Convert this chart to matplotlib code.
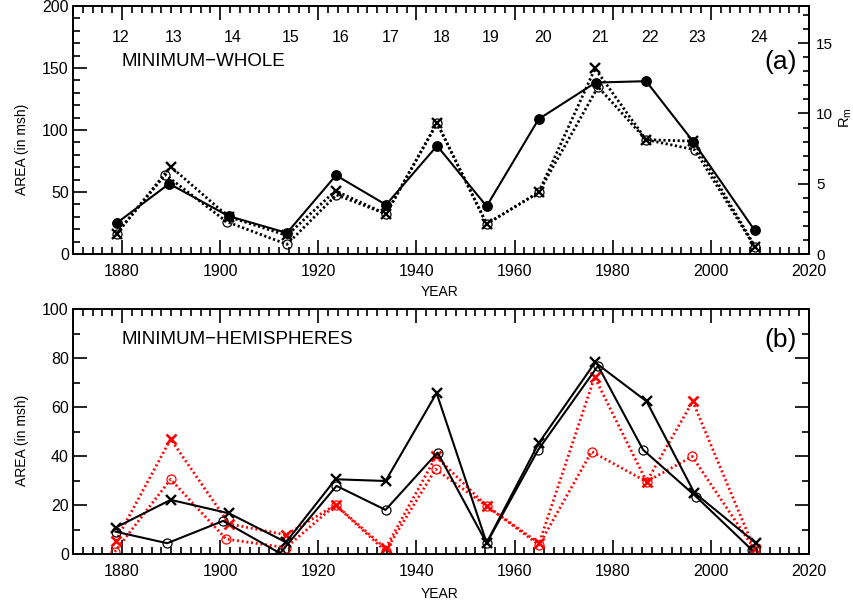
import matplotlib
matplotlib.use('Agg')
import matplotlib.pyplot as plt
from matplotlib.ticker import MultipleLocator
import matplotlib.transforms as mtransforms

plt.rcParams['font.family'] = ['Liberation Sans', 'DejaVu Sans']

# ---------------- data ----------------
cycles = [12, 13, 14, 15, 16, 17, 18, 19, 20, 21, 22, 23, 24]

# panel (a): smoothed sunspot number at minimum (right axis)
rm_years = [1878.9, 1889.6, 1901.7, 1913.6, 1923.6, 1933.8, 1944.2, 1954.3,
            1964.9, 1976.5, 1986.8, 1996.4, 2008.9]
rm_values = [2.2, 5.0, 2.7, 1.5, 5.6, 3.5, 7.7, 3.4, 9.6, 12.2, 12.3, 8.0, 1.7]

# panel (a): whole-disk minimum area, two estimates (crosses / circles)
whole_x_years = [1878.9, 1889.9, 1901.7, 1913.6, 1923.5, 1933.8, 1944.2, 1954.3,
                 1964.9, 1976.4, 1986.8, 1996.4, 2009.0]
whole_x_area = [16.5, 70.5, 30.0, 15.0, 51.0, 32.3, 105.7, 24.3,
                49.6, 149.6, 92.2, 91.0, 5.9]
whole_o_years = [1878.9, 1888.8, 1901.3, 1913.6, 1923.7, 1933.8, 1944.2, 1954.3,
                 1964.9, 1977.0, 1986.8, 1996.7, 2008.9]
whole_o_area = [16.5, 63.9, 26.1, 7.8, 47.7, 32.3, 105.7, 24.3,
                49.6, 134.8, 92.2, 84.1, 5.9]

# panel (b): hemispheres
bx_years = [1878.7, 1889.9, 1901.8, 1913.4, 1923.5, 1933.7, 1944.1, 1954.3,
            1964.9, 1976.4, 1986.9, 1996.6, 2009.1]
bx_area = [10.8, 22.1, 16.6, 4.8, 30.5, 29.8, 65.7, 4.6, 45.2, 78.2, 62.3, 25.1, 4.6]
bo_years = [1878.7, 1889.2, 1900.6, 1912.2, 1923.7, 1933.7, 1944.3, 1954.3,
            1964.8, 1977.0, 1986.2, 1997.0, 2008.4]
bo_area = [9.1, 4.4, 13.5, 0.3, 27.8, 18.0, 41.4, 4.4, 42.5, 76.8, 42.5, 23.4, 1.6]
rx_years = [1878.7, 1889.9, 1901.8, 1913.4, 1923.5, 1933.7, 1944.0, 1954.3,
            1965.0, 1976.3, 1986.9, 1996.3, 2008.9]
rx_area = [5.3, 46.9, 12.3, 7.8, 20.0, 2.3, 39.8, 19.6, 4.4, 72.2, 29.5, 62.3, 1.9]
ro_years = [1878.5, 1889.9, 1901.2, 1913.4, 1923.5, 1933.7, 1943.9, 1954.3,
            1965.0, 1975.7, 1986.9, 1996.2, 2008.9]
ro_area = [0.9, 30.5, 6.1, 2.6, 20.0, 1.2, 34.6, 19.6, 3.7, 41.8, 29.5, 39.8, 1.9]

# ---------------- figure ----------------
W, H = 854, 605
fig = plt.figure(figsize=(W / 100, H / 100), dpi=100)


def fx(px):
    return px / W


def fy(py):
    return 1 - py / H


ax1 = fig.add_axes([fx(73), fy(254), fx(809) - fx(73), fy(6) - fy(254)])
ax2 = fig.add_axes([fx(73), fy(554), fx(809) - fx(73), fy(309) - fy(554)])

TICKFS = 11.5
LW = 1.5


def style(ax, ymax, ymaj, ymin, right=True):
    ax.set_xlim(1870, 2020)
    ax.set_ylim(0, ymax)
    ax.xaxis.set_major_locator(MultipleLocator(20))
    ax.xaxis.set_minor_locator(MultipleLocator(2))
    ax.yaxis.set_major_locator(MultipleLocator(ymaj))
    ax.yaxis.set_minor_locator(MultipleLocator(ymin))
    ax.tick_params(which='both', direction='in', top=True, right=right,
                   width=1.2, labelsize=TICKFS)
    ax.tick_params(which='major', length=10)
    ax.tick_params(which='minor', length=5)
    ax.tick_params(axis='x', pad=7)
    ax.tick_params(axis='y', pad=3)
    for s in ax.spines.values():
        s.set_linewidth(1.4)


style(ax1, 200, 50, 10, right=False)
style(ax2, 100, 20, 10, right=True)

# twin axis for R_m
ax1r = ax1.twinx()
ax1r.set_ylim(0, 17.65)
ax1r.yaxis.set_major_locator(MultipleLocator(5))
ax1r.yaxis.set_minor_locator(MultipleLocator(1))
ax1r.tick_params(which='both', direction='in', width=1.2, labelsize=TICKFS - 0.5, pad=5)
ax1r.tick_params(which='major', length=8)
ax1r.tick_params(which='minor', length=4)
for s in ax1r.spines.values():
    s.set_linewidth(1.4)

dot_k = (0, (0.8, 0.9))
dot_r = (0, (0.7, 1.0))

# ---- panel (a)
ax1.plot(whole_o_years, whole_o_area, color='black', ls=dot_k, lw=2.0,
         marker='o', mfc='none', ms=6.5, mew=0.9)
ax1.plot(whole_x_years, whole_x_area, color='black', ls=dot_k, lw=2.0,
         marker='x', ms=7, mew=1.7)
ax1r.plot(rm_years, rm_values, color='black', lw=LW, marker='o', ms=6.8)

# cycle numbers along the top
lab_tr = mtransforms.offset_copy(
    mtransforms.blended_transform_factory(ax1.transData, ax1.transAxes),
    fig=fig, x=3, y=0, units='points')
for yr, c in zip(rm_years, cycles):
    ax1.text(yr, 0.871, str(c), transform=lab_tr, ha='center', va='center',
             fontsize=TICKFS)

# ---- panel (b)
ax2.plot(ro_years, ro_area, color='red', ls=dot_r, lw=2.0,
         marker='o', mfc='none', ms=6.5, mew=0.9)
ax2.plot(rx_years, rx_area, color='red', ls=dot_r, lw=2.0,
         marker='x', ms=7, mew=1.9)
ax2.plot(bo_years, bo_area, color='black', lw=LW,
         marker='o', mfc='none', ms=6.5, mew=0.9)
ax2.plot(bx_years, bx_area, color='black', lw=LW, marker='x', ms=7, mew=1.7)

# ---- texts
fig.text(fx(122), fy(62), 'MINIMUM\u2212WHOLE', ha='left', va='center', fontsize=13.5)
fig.text(fx(122), fy(340), 'MINIMUM\u2212HEMISPHERES', ha='left', va='center', fontsize=13.5)
fig.text(fx(781), fy(62), '(a)', ha='center', va='center', fontsize=19)
fig.text(fx(781), fy(340), '(b)', ha='center', va='center', fontsize=19)
fig.text(fx(440), fy(292), 'YEAR', ha='center', va='center', fontsize=10)
fig.text(fx(440), fy(594), 'YEAR', ha='center', va='center', fontsize=10)
fig.text(fx(22), fy(149), 'AREA (in msh)', ha='center', va='center', rotation=90, fontsize=10)
fig.text(fx(22), fy(440), 'AREA (in msh)', ha='center', va='center', rotation=90, fontsize=10)
fig.text(fx(846), fy(118), r'$\mathregular{R_m}$', ha='center', va='center', rotation=90, fontsize=10.5)

fig.savefig('out.png', dpi=100)
